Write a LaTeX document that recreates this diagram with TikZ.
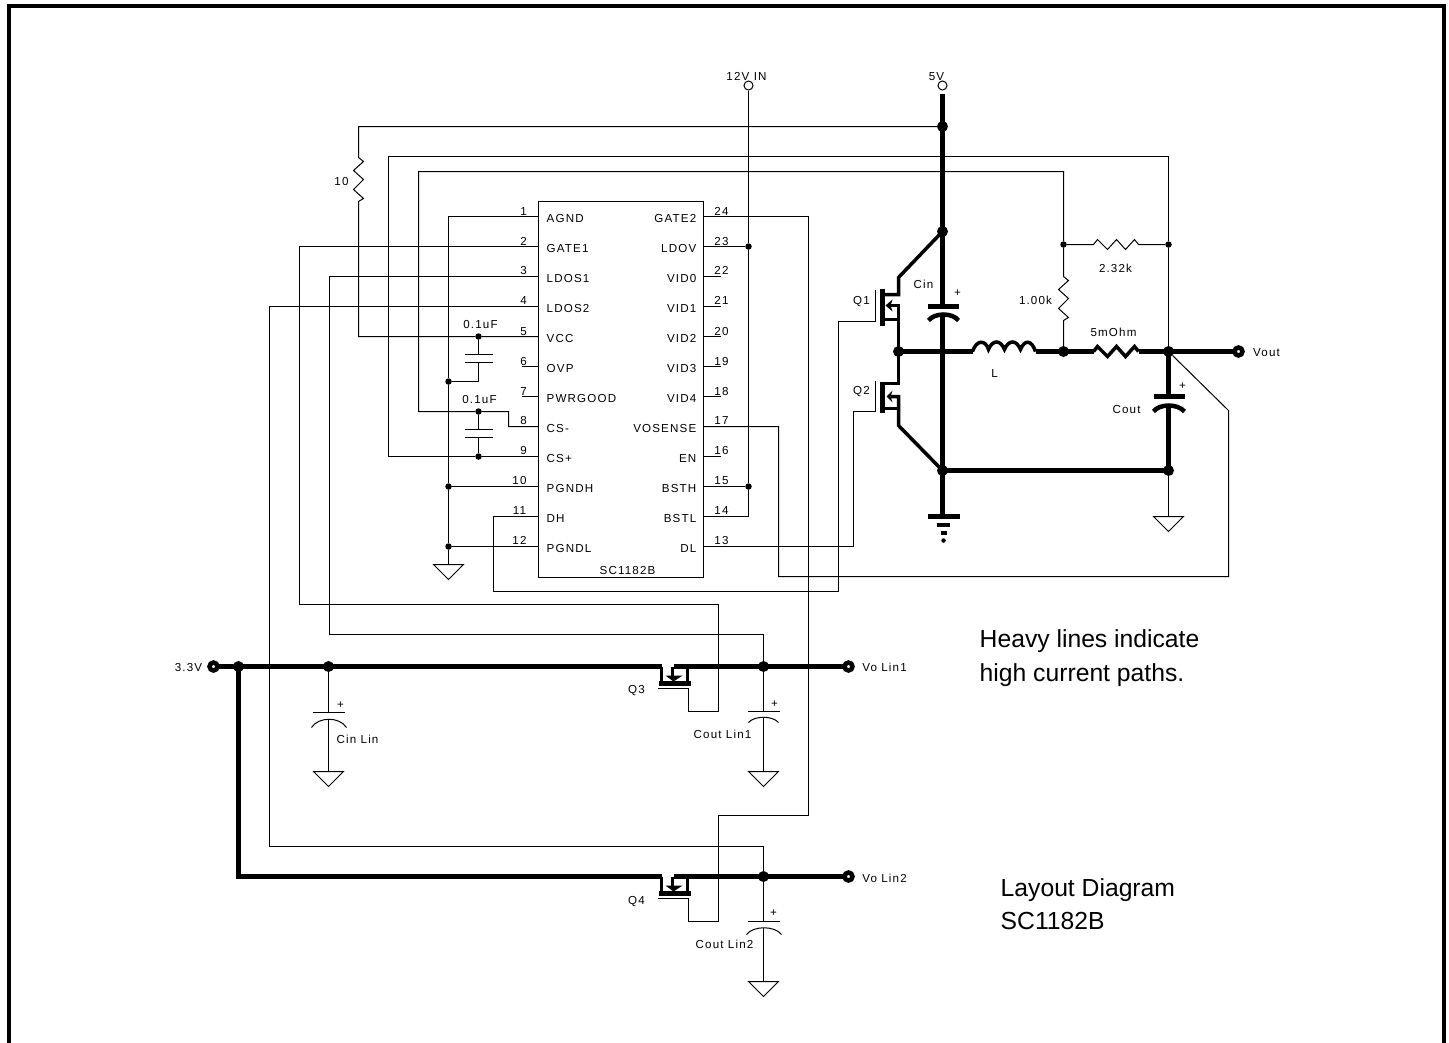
\documentclass[tikz,border=0pt]{standalone}
\usepackage{fontspec}
\usepackage{tikz}
\setmainfont{Liberation Sans}
\newfontfamily\spacedfont[LetterSpace=10]{Liberation Sans}

\tikzset{
    wire/.style={line width=1pt, line join=miter},
    heavy/.style={line width=4.5pt, line join=miter},
    semiheavy/.style={line width=3.5pt, line join=miter},
    dot/.style={circle, fill=black, inner sep=0pt, minimum size=6.5pt},
    bigdot/.style={circle, fill=black, inner sep=0pt, minimum size=11pt},
    openring/.style={circle, draw, fill=white, line width=1pt, inner sep=0pt, minimum size=9pt},
    thickring/.style={circle, draw, fill=white, line width=4.5pt, inner sep=0pt, outer sep=0pt, minimum size=8pt},
    lbl/.style={font=\fontsize{11.6}{13}\spacedfont, inner sep=0pt, yshift=0.4pt},
    pinleft/.style={lbl, anchor=west},
    pinright/.style={lbl, anchor=east},
    note/.style={font=\fontsize{24.7}{28}\selectfont, inner sep=0pt, anchor=base west}
}

\begin{document}
\begin{tikzpicture}[x=1pt, y=-1pt, shift={(0.5,0.5)}]
        \useasboundingbox (-0.5,-0.5) rectangle (1448.5,1041.5);

        % Outer frame, open at the bottom
        \coordinate (f1) at (8,1042);
        \coordinate (f2) at (8,5);
        \coordinate (f3) at (1443,5);
        \coordinate (f4) at (1443,1042);
        \draw[line width=4pt, line join=miter] (f1) -- (f2) -- (f3) -- (f4);

        % SC1182B
        \node[draw, line width=1pt, inner sep=0pt, outer sep=0pt, minimum width=165pt, minimum height=376pt] (ic) at (620.5,389) {};
        \node[lbl] (icname) at (627,570) {SC1182B};

        % Left pin ends
        \coordinate (p1) at (538,216);
        \coordinate (p2) at (538,246);
        \coordinate (p3) at (538,276);
        \coordinate (p4) at (538,306);
        \coordinate (p5) at (538,336);
        \coordinate (p6) at (538,366);
        \coordinate (p7) at (538,396);
        \coordinate (p8) at (538,426);
        \coordinate (p9) at (538,456);
        \coordinate (p10) at (538,486);
        \coordinate (p11) at (538,516);
        \coordinate (p12) at (538,546);

        % Right pin ends
        \coordinate (p24) at (703,216);
        \coordinate (p23) at (703,246);
        \coordinate (p22) at (703,276);
        \coordinate (p21) at (703,306);
        \coordinate (p20) at (703,336);
        \coordinate (p19) at (703,366);
        \coordinate (p18) at (703,396);
        \coordinate (p17) at (703,426);
        \coordinate (p16) at (703,456);
        \coordinate (p15) at (703,486);
        \coordinate (p14) at (703,516);
        \coordinate (p13) at (703,546);

        % Left pin names and numbers
        \node[pinleft] (nAGND) at (546,218) {AGND};
        \node[pinleft] (nGATE1) at (546,248) {GATE1};
        \node[pinleft] (nLDOS1) at (546,278) {LDOS1};
        \node[pinleft] (nLDOS2) at (546,308) {LDOS2};
        \node[pinleft] (nVCC) at (546,338) {VCC};
        \node[pinleft] (nOVP) at (546,368) {OVP};
        \node[pinleft] (nPWRGOOD) at (546,398) {PWRGOOD};
        \node[pinleft] (nCSm) at (546,428) {CS-};
        \node[pinleft] (nCSp) at (546,458) {CS+};
        \node[pinleft] (nPGNDH) at (546,488) {PGNDH};
        \node[pinleft] (nDH) at (546,518) {DH};
        \node[pinleft] (nPGNDL) at (546,548) {PGNDL};
        \node[lbl] (n1) at (523,211) {1};
        \node[lbl] (n2) at (523,241) {2};
        \node[lbl] (n3) at (523,270) {3};
        \node[lbl] (n4) at (523,300) {4};
        \node[lbl] (n5) at (523,331) {5};
        \node[lbl] (n6) at (523,361) {6};
        \node[lbl] (n7) at (523,391) {7};
        \node[lbl] (n8) at (523,420) {8};
        \node[lbl] (n9) at (523,450) {9};
        \node[lbl] (n10) at (519,480) {10};
        \node[lbl] (n11) at (519,510) {11};
        \node[lbl] (n12) at (519,540) {12};

        % Right pin names and numbers
        \node[pinright] (nGATE2) at (696,218) {GATE2};
        \node[pinright] (nLDOV) at (696,248) {LDOV};
        \node[pinright] (nVID0) at (696,278) {VID0};
        \node[pinright] (nVID1) at (696,308) {VID1};
        \node[pinright] (nVID2) at (696,338) {VID2};
        \node[pinright] (nVID3) at (696,368) {VID3};
        \node[pinright] (nVID4) at (696,398) {VID4};
        \node[pinright] (nVOSENSE) at (696,428) {VOSENSE};
        \node[pinright] (nEN) at (696,458) {EN};
        \node[pinright] (nBSTH) at (696,488) {BSTH};
        \node[pinright] (nBSTL) at (696,518) {BSTL};
        \node[pinright] (nDL) at (696,548) {DL};
        \node[lbl] (n24) at (721,211) {24};
        \node[lbl] (n23) at (721,241) {23};
        \node[lbl] (n22) at (721,270) {22};
        \node[lbl] (n21) at (721,300) {21};
        \node[lbl] (n20) at (721,331) {20};
        \node[lbl] (n19) at (721,361) {19};
        \node[lbl] (n18) at (721,391) {18};
        \node[lbl] (n17) at (721,420) {17};
        \node[lbl] (n16) at (721,450) {16};
        \node[lbl] (n15) at (721,480) {15};
        \node[lbl] (n14) at (721,510) {14};
        \node[lbl] (n13) at (721,540) {13};

        % Unused pins
        \coordinate (s6) at (521,366);
        \coordinate (s7) at (521,396);
        \coordinate (s22) at (720,276);
        \coordinate (s21) at (720,306);
        \coordinate (s20) at (720,336);
        \coordinate (s19) at (720,366);
        \coordinate (s18) at (720,396);
        \coordinate (s16) at (720,456);
        \draw[wire] (p6) -- (s6);
        \draw[wire] (p7) -- (s7);
        \draw[wire] (p22) -- (s22);
        \draw[wire] (p21) -- (s21);
        \draw[wire] (p20) -- (s20);
        \draw[wire] (p19) -- (s19);
        \draw[wire] (p18) -- (s18);
        \draw[wire] (p16) -- (s16);

        % Analog ground and its decoupling caps
        \node[dot] (d5) at (478,336) {};
        \node[dot] (d6) at (448,381) {};
        \node[dot] (d8) at (478,411) {};
        \node[dot] (d9) at (478,456) {};
        \node[dot] (d10) at (448,486) {};
        \node[dot] (d12) at (448,546) {};
        \coordinate (a1) at (448,216);
        \coordinate (g1) at (448,564);
        \draw[wire] (p1) -- (a1) -- (d6) -- (d10) -- (d12) -- (g1);
        \draw[wire] (p10) -- (d10);
        \draw[wire] (p12) -- (d12);
        \draw[wire] (g1) ++(-15,0) -- ++(30,0) -- ++(-15,15) -- cycle;

        \coordinate (c1t) at (478,354);
        \coordinate (c1b) at (478,362);
        \coordinate (c1k) at (478,381);
        \draw[wire] (d5) -- (c1t);
        \draw[wire] (c1b) -- (c1k) -- (d6);
        \draw[line width=1.2pt] (c1t) ++(-14,0) -- ++(28,0);
        \draw[line width=1.2pt] (c1b) ++(-14,0) -- ++(28,0);
        \node[lbl] (c1lab) at (480,324) {0.1uF};

        \coordinate (c2t) at (478,429);
        \coordinate (c2b) at (478,437);
        \draw[wire] (d8) -- (c2t);
        \draw[wire] (c2b) -- (d9);
        \draw[line width=1.2pt] (c2t) ++(-14,0) -- ++(28,0);
        \draw[line width=1.2pt] (c2b) ++(-14,0) -- ++(28,0);
        \node[lbl] (c2lab) at (479,399) {0.1uF};

        % VCC through the 10 ohm up to 5V
        \coordinate (v1) at (358,336);
        \coordinate (v2) at (358,157);
        \coordinate (v3) at (358,201);
        \coordinate (v4) at (358,126);
        \node[bigdot] (d5v) at (942,126) {};
        \draw[wire] (p5) -- (d5) -- (v1) -- (v3) -- ++(5,-3) -- ++(-10,-9) -- ++(10,-10) -- ++(-10,-9) -- ++(10,-9) -- (v2) -- (v4) -- (d5v);
        \node[lbl] (r10lab) at (341,181) {10};

        % Current sense lines
        \node[dot] (dr1) at (1063,244) {};
        \node[dot] (dr2) at (1168,244) {};
        \node[bigdot] (dsn) at (1063,351) {};
        \node[bigdot] (dout) at (1168,351) {};
        \coordinate (k1) at (508,426);
        \coordinate (k2) at (508,411);
        \coordinate (k3) at (418,411);
        \coordinate (k4) at (418,171);
        \coordinate (k5) at (1063,171);
        \coordinate (r1t) at (1063,276);
        \coordinate (r1b) at (1063,320);
        \draw[wire] (p8) -- (k1) -- (k2) -- (d8) -- (k3) -- (k4) -- (k5) -- (dr1) -- (r1t) -- ++(5,4) -- ++(-10,9) -- ++(10,9) -- ++(-10,10) -- ++(10,9) -- (r1b) -- (dsn);
        \coordinate (m1) at (388,456);
        \coordinate (m2) at (388,156);
        \coordinate (m3) at (1168,156);
        \draw[wire] (p9) -- (d9) -- (m1) -- (m2) -- (m3) -- (dr2) -- (dout);
        \coordinate (r2l) at (1093,244);
        \coordinate (r2r) at (1138,244);
        \draw[wire] (dr1) -- (r2l) -- ++(4,-5) -- ++(10,10) -- ++(9,-10) -- ++(9,10) -- ++(9,-10) -- (r2r) -- (dr2);
        \node[lbl] (r1lab) at (1035,300) {1.00k};
        \node[lbl] (r2lab) at (1115,268) {2.32k};

        % 12V IN
        \node[openring] (in12) at (748,85) {};
        \node[lbl] (in12lab) at (746,76) {12V IN};
        \node[dot] (d23) at (748,246) {};
        \node[dot] (d15) at (748,486) {};
        \coordinate (b14) at (748,516);
        \draw[wire] (in12) -- (d23) -- (d15) -- (b14) -- (p14);
        \draw[wire] (p23) -- (d23);
        \draw[wire] (p15) -- (d15);

        % 5V rail and power stage
        \node[openring] (in5) at (942,85) {};
        \node[lbl] (in5lab) at (936,76) {5V};
        \node[bigdot] (dtop) at (942,231) {};
        \node[bigdot] (dsw) at (898,351) {};
        \node[bigdot] (dbot) at (942,470) {};
        \node[bigdot] (dcout) at (1168,470) {};
        \coordinate (cint) at (942,306);
        \coordinate (cinb) at (942,315);
        \coordinate (gndp) at (942,516);
        \coordinate (in5b) at (942,93);
        \draw[heavy] (in5b) -- (d5v.center) -- (dtop.center) -- (cint);
        \draw[heavy] (cinb) -- (dbot.center) -- (gndp);
        \draw[heavy] (cint) ++(-15,0) -- ++(31,0);
        \draw[heavy] (928,320) .. controls (934,312) and (952,312) .. (958,320);
        \node[lbl] (cinlab) at (923,284) {Cin};
        \node[lbl] (cinplus) at (957,293) {+};
        \draw[heavy] (gndp) ++(-15,0) -- ++(32,0);
        \draw[line width=4pt] (936,524) -- (949,524);
        \draw[line width=4pt] (940,532) -- (946,532);
        \node[circle, fill=black, inner sep=0pt, minimum size=4.5pt] (gndtip) at (943,540) {};

        % Q1
        \coordinate (q1bt) at (882,288);
        \coordinate (q1bb) at (882,325);
        \coordinate (q1d) at (898,294);
        \coordinate (q1e) at (898,277);
        \coordinate (q1s) at (898,305);
        \coordinate (q1g) at (875,321);
        \coordinate (q1h) at (875,289);
        \coordinate (q1j) at (838,321);
        \draw[line width=5pt] (q1bt) -- (q1bb);
        \draw[semiheavy] (882,294) -- (q1d) -- (q1e) -- (dtop.center);
        \draw[semiheavy] (889,305) -- (q1s) -- (dsw.center);
        \draw[semiheavy] (882,319) -- (898,319);
        \fill (885,305) -- (892,299) -- (890,305) -- (892,311) -- cycle;
        \node[lbl] (q1lab) at (861,301) {Q1};

        % Q2
        \coordinate (q2bt) at (882,381);
        \coordinate (q2bb) at (882,412);
        \coordinate (q2d) at (898,383);
        \coordinate (q2s) at (898,396);
        \coordinate (q2e) at (898,425);
        \coordinate (q2g) at (875,411);
        \coordinate (q2h) at (875,380);
        \coordinate (q2j) at (853,411);
        \draw[line width=5pt] (q2bt) -- (q2bb);
        \draw[semiheavy] (882,383) -- (q2d) -- (dsw.center);
        \draw[semiheavy] (890,396) -- (q2s) -- (q2e) -- (dbot.center);
        \draw[semiheavy] (882,408) -- (898,408);
        \fill (886,396) -- (892,390) -- (890,396) -- (892,402) -- cycle;
        \node[lbl] (q2lab) at (861,391) {Q2};

        % Gate drive
        \coordinate (h1) at (493,516);
        \coordinate (h2) at (493,591);
        \coordinate (h3) at (838,591);
        \draw[wire] (p11) -- (h1) -- (h2) -- (h3) -- (q1j) -- (q1g) -- (q1h);
        \coordinate (l1) at (853,546);
        \draw[wire] (p13) -- (l1) -- (q2j) -- (q2g) -- (q2h);

        % Output stage
        \node[thickring] (vout) at (1238,351) {};
        \node[lbl] (voutlab) at (1266,352) {Vout};
        \coordinate (l0) at (972,351);
        \coordinate (l4) at (1035,351);
        \coordinate (r3l) at (1093,351);
        \coordinate (r3r) at (1138,351);
        \draw[heavy] (dsw.center) -- (l0);
        \draw[line width=3.5pt] (l0) .. controls (976,339) and (985,339) .. (988,349) .. controls (992,339) and (1000,339) .. (1004,349) .. controls (1008,339) and (1016,339) .. (1020,349) .. controls (1024,339) and (1031,339) .. (l4);
        \draw[heavy] (l4) -- (dsn.center) -- (r3l);
        \draw[line width=3.5pt] (r3l) -- ++(4,-5) -- ++(10,10) -- ++(9,-10) -- ++(9,10) -- ++(9,-10) -- (r3r);
        \draw[heavy] (r3r) -- (dout.center) -- (vout);
        \node[lbl] (llab) at (994,373) {L};
        \node[lbl] (r3lab) at (1113,332) {5mOhm};

        \coordinate (coutt) at (1168,396);
        \coordinate (coutb) at (1168,405);
        \draw[heavy] (dout.center) -- (coutt);
        \draw[heavy] (coutt) ++(-15,0) -- ++(31,0);
        \draw[heavy] (1153,411) .. controls (1159,403) and (1177,403) .. (1184,411);
        \draw[heavy] (coutb) -- (dcout.center) -- (dbot.center);
        \node[lbl] (coutlab) at (1126,409) {Cout};
        \node[lbl] (coutplus) at (1182,386) {+};
        \coordinate (g2) at (1168,516);
        \draw[wire] (dcout) -- (g2);
        \draw[wire] (g2) ++(-15,0) -- ++(30,0) -- ++(-15,15) -- cycle;

        % Output sense back to VOSENSE
        \coordinate (o1) at (778,426);
        \coordinate (o2) at (778,576);
        \coordinate (o3) at (1228,576);
        \coordinate (o4) at (1228,410);
        \draw[wire] (p17) -- (o1) -- (o2) -- (o3) -- (o4) -- (dout);

        % 3.3V rail to Vo Lin1
        \node[thickring] (in33) at (213,666) {};
        \node[lbl] (in33lab) at (188,667) {3.3V};
        \node[bigdot] (d238) at (238,666) {};
        \node[bigdot] (d329) at (328,666) {};
        \node[bigdot] (d763) at (763,666) {};
        \node[thickring] (lin1) at (848,666) {};
        \node[lbl] (lin1lab) at (884,667) {Vo Lin1};
        \coordinate (q3a) at (661,666);
        \coordinate (q3b) at (673,666);
        \draw[heavy] (in33) -- (d238.center) -- (d329.center) -- (q3a);
        \draw[heavy] (q3b) -- (d763.center) -- (lin1);

        % Q3
        \draw[semiheavy] (q3a) -- (661,683);
        \draw[semiheavy] (672,666) -- (672,676);
        \draw[semiheavy] (687,666) -- (687,683);
        \draw[line width=5pt] (658,683) -- (690,683);
        \fill (665,675) -- (682,675) -- (673,681) -- cycle;
        \node[lbl] (q3lab) at (636,690) {Q3};

        % Q3 gate from pin 2, output sense from pin 3
        \coordinate (t1) at (299,246);
        \coordinate (t2) at (299,604);
        \coordinate (t3) at (718,604);
        \coordinate (t4) at (718,711);
        \coordinate (t5) at (688,711);
        \coordinate (t6) at (688,688);
        \coordinate (t7) at (657,688);
        \draw[wire] (p2) -- (t1) -- (t2) -- (t3) -- (t4) -- (t5) -- (t6) -- (t7);
        \coordinate (w1) at (329,276);
        \coordinate (w2) at (329,634);
        \coordinate (w3) at (763,634);
        \draw[wire] (p3) -- (w1) -- (w2) -- (w3) -- (d763);

        % Cin Lin
        \coordinate (c3t) at (328,712);
        \coordinate (c3b) at (328,718);
        \coordinate (g3) at (328,771);
        \draw[wire] (d329) -- (c3t);
        \draw[wire] (c3b) -- (g3);
        \draw[line width=1.2pt] (c3t) ++(-16,0) -- ++(32,0);
        \draw[wire] (311,727) .. controls (318,716) and (339,716) .. (346,727);
        \draw[wire] (g3) ++(-15,0) -- ++(30,0) -- ++(-15,15) -- cycle;
        \node[lbl] (c3lab) at (357,739) {Cin Lin};
        \node[lbl] (c3plus) at (340,705) {+};

        % Cout Lin1
        \coordinate (c4t) at (763,711);
        \coordinate (c4b) at (763,717);
        \coordinate (g4) at (763,771);
        \draw[wire] (d763) -- (c4t);
        \draw[wire] (c4b) -- (g4);
        \draw[line width=1.2pt] (c4t) ++(-16,0) -- ++(32,0);
        \draw[wire] (748,722) .. controls (754,715) and (772,715) .. (778,722);
        \draw[wire] (g4) ++(-15,0) -- ++(30,0) -- ++(-15,15) -- cycle;
        \node[lbl] (c4lab) at (722,734) {Cout Lin1};
        \node[lbl] (c4plus) at (774,704) {+};

        % Second linear rail to Vo Lin2
        \coordinate (y1) at (238,876);
        \coordinate (q4a) at (661,876);
        \coordinate (q4b) at (673,876);
        \node[bigdot] (d876) at (763,876) {};
        \node[thickring] (lin2) at (848,876) {};
        \node[lbl] (lin2lab) at (884,878) {Vo Lin2};
        \draw[line width=5pt, line join=miter] (d238.center) -- (y1) -- (q4a);
        \draw[heavy] (q4b) -- (d876.center) -- (lin2);

        % Q4
        \draw[semiheavy] (q4a) -- (661,893);
        \draw[semiheavy] (672,876) -- (672,886);
        \draw[semiheavy] (687,876) -- (687,893);
        \draw[line width=5pt] (658,893) -- (690,893);
        \fill (665,885) -- (682,885) -- (673,891) -- cycle;
        \node[lbl] (q4lab) at (636,901) {Q4};

        % Q4 gate from pin 24, output sense from pin 4
        \coordinate (u1) at (808,216);
        \coordinate (u2) at (808,815);
        \coordinate (u3) at (718,815);
        \coordinate (u4) at (718,921);
        \coordinate (u5) at (688,921);
        \coordinate (u6) at (688,898);
        \coordinate (u7) at (657,898);
        \draw[wire] (p24) -- (u1) -- (u2) -- (u3) -- (u4) -- (u5) -- (u6) -- (u7);
        \coordinate (z1) at (269,306);
        \coordinate (z2) at (269,846);
        \coordinate (z3) at (763,846);
        \draw[wire] (p4) -- (z1) -- (z2) -- (z3) -- (d876);

        % Cout Lin2
        \coordinate (c5t) at (763,921);
        \coordinate (c5b) at (763,927);
        \coordinate (g5) at (763,981);
        \draw[wire] (d876) -- (c5t);
        \draw[wire] (c5b) -- (g5);
        \draw[line width=1.2pt] (c5t) ++(-16,0) -- ++(32,0);
        \draw[wire] (746,934) .. controls (753,925) and (774,925) .. (781,934);
        \draw[wire] (g5) ++(-15,0) -- ++(30,0) -- ++(-15,15) -- cycle;
        \node[lbl] (c5lab) at (724,944) {Cout Lin2};
        \node[lbl] (c5plus) at (773,913) {+};

        % Notes
        \node[note] (note1a) at (979,647) {Heavy lines indicate};
        \node[note] (note1b) at (979,681) {high current paths.};
        \node[note] (note2a) at (1000,896) {Layout Diagram};
        \node[note] (note2b) at (1000,929) {SC1182B};
    \end{tikzpicture}
\end{document}
